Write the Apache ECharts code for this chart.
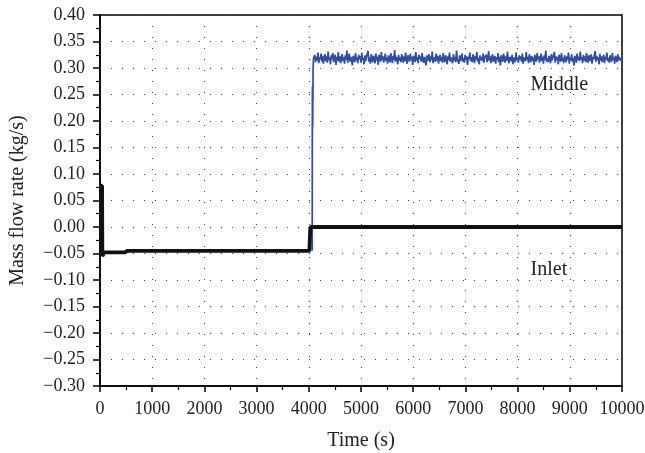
<!DOCTYPE html>
<html>
<head>
<meta charset="utf-8">
<script src="https://cdn.jsdelivr.net/npm/echarts@6/dist/echarts.min.js"></script>
<style>html,body{margin:0;padding:0;background:#fff}#c{width:645px;height:453px}</style>
</head>
<body>
<div id="c"></div>
<script>
// ---- data ----
var inletTime  = [0, 40, 45, 80, 480, 520, 4010, 4030, 10000];
var inletValue = [0.078, 0.078, -0.055, -0.048, -0.048, -0.045, -0.045, 0.000, 0.000];

var middleRiseTime  = [4065, 4067, 4069, 4071, 4073, 4075, 4077, 4079, 4082, 4090];
var middleRiseValue = [-0.045, 0.180, 0.265, 0.185, 0.262, 0.190, 0.258, 0.240, 0.300, 0.318];

var middleStart = 4100;
var middleStep = 15;
var middleNoise = [
0.318,0.325,0.311,0.321,0.314,0.329,0.309,0.320,0.316,0.327,
0.312,0.323,0.308,0.319,0.326,0.313,0.322,0.310,0.331,0.315,
0.320,0.307,0.324,0.317,0.328,0.311,0.319,0.325,0.306,0.321,
0.314,0.330,0.312,0.322,0.309,0.318,0.326,0.313,0.320,0.308,
0.324,0.316,0.333,0.310,0.319,0.327,0.312,0.321,0.315,0.305,
0.323,0.318,0.311,0.328,0.314,0.320,0.309,0.325,0.317,0.322,
0.310,0.329,0.315,0.319,0.307,0.324,0.313,0.321,0.318,0.332,
0.312,0.320,0.308,0.326,0.316,0.311,0.323,0.317,0.309,0.327,
0.314,0.321,0.306,0.325,0.319,0.312,0.330,0.315,0.322,0.310,
0.318,0.327,0.313,0.320,0.308,0.324,0.316,0.311,0.328,0.319,
0.309,0.323,0.315,0.334,0.312,0.321,0.317,0.307,0.325,0.314,
0.320,0.311,0.326,0.318,0.310,0.322,0.313,0.329,0.316,0.308,
0.324,0.319,0.312,0.327,0.315,0.321,0.306,0.323,0.318,0.311,
0.330,0.314,0.320,0.309,0.325,0.317,0.322,0.312,0.328,0.316,
0.310,0.321,0.318,0.305,0.324,0.313,0.319,0.326,0.311,0.322,
0.315,0.331,0.309,0.320,0.317,0.312,0.327,0.314,0.323,0.308,
0.319,0.325,0.313,0.321,0.310,0.328,0.316,0.311,0.324,0.318,
0.307,0.322,0.315,0.329,0.312,0.320,0.317,0.309,0.326,0.314,
0.321,0.311,0.333,0.316,0.319,0.308,0.324,0.313,0.320,0.327,
0.312,0.318,0.310,0.325,0.315,0.322,0.306,0.321,0.317,0.329,
0.313,0.320,0.311,0.326,0.318,0.309,0.323,0.316,0.330,0.312,
0.319,0.307,0.324,0.315,0.321,0.313,0.327,0.310,0.320,0.317,
0.325,0.311,0.318,0.332,0.314,0.322,0.309,0.319,0.326,0.312,
0.316,0.323,0.308,0.320,0.315,0.328,0.311,0.321,0.305,0.324,
0.317,0.312,0.327,0.319,0.310,0.322,0.314,0.331,0.316,0.309,
0.321,0.318,0.313,0.325,0.307,0.320,0.323,0.311,0.329,0.315,
0.319,0.310,0.324,0.316,0.322,0.312,0.327,0.308,0.320,0.317,
0.313,0.330,0.315,0.321,0.309,0.326,0.318,0.311,0.323,0.314,
0.320,0.306,0.325,0.317,0.312,0.328,0.316,0.322,0.310,0.319,
0.327,0.313,0.321,0.308,0.324,0.315,0.333,0.312,0.318,0.311,
0.323,0.316,0.309,0.326,0.314,0.320,0.317,0.330,0.310,0.322,
0.315,0.321,0.307,0.325,0.318,0.312,0.328,0.313,0.319,0.309,
0.324,0.317,0.311,0.322,0.316,0.329,0.308,0.320,0.314,0.326,
0.312,0.319,0.305,0.323,0.318,0.310,0.327,0.315,0.321,0.313,
0.331,0.316,0.320,0.309,0.325,0.314,0.322,0.311,0.328,0.317,
0.310,0.324,0.318,0.313,0.326,0.308,0.321,0.316,0.319,0.332,
0.312,0.323,0.315,0.320,0.307,0.327,0.314,0.322,0.311,0.318,
0.325,0.309,0.321,0.316,0.329,0.313,0.319,0.310,0.324,0.317,
0.312,0.328,0.315,0.320,0.308,0.323,0.318,0.311,0.326,0.314,
0.321,0.316,0.319,0.313
];

var labelMiddle = {name: 'Middle', t: 8800, v: 0.268};
var labelInlet  = {name: 'Inlet',  t: 8600, v: -0.081};

// ---- build series data ----
var inletData = inletTime.map(function (t, i) { return [t, inletValue[i]]; });
var middleData = middleRiseTime.map(function (t, i) { return [t, middleRiseValue[i]]; });
middleNoise.forEach(function (v, i) { middleData.push([middleStart + i * middleStep, v]); });

var FONT = 'Liberation Serif';
var dotted = {color: '#444', width: 1, type: [1, 10]};

function textMark(lbl) {
  return {
    symbol: 'rect', symbolSize: [70, 24],
    itemStyle: {color: 'rgba(0,0,0,0)'},
    data: [{coord: [lbl.t, lbl.v], value: lbl.name}],
    label: {show: true, position: 'inside', formatter: lbl.name, fontFamily: FONT, fontSize: 20, color: '#222'}
  };
}

var chart = echarts.init(document.getElementById('c'), null, {renderer: 'canvas'});
chart.setOption({
  animation: false,
  backgroundColor: '#fff',
  grid: {left: 100, right: 23, top: 15, bottom: 67, show: true, borderColor: '#000', borderWidth: 1.5,
         backgroundColor: 'transparent', containLabel: false, outerBoundsMode: 'none'},
  xAxis: {
    type: 'value', min: 0, max: 10000, interval: 1000,
    name: 'Time (s)', nameLocation: 'middle', nameGap: 45,
    nameTextStyle: {fontFamily: FONT, fontSize: 20, color: '#222'},
    axisLine: {show: true, onZero: false, lineStyle: {color: '#000', width: 1.5}},
    axisTick: {show: true, inside: false, length: 6, lineStyle: {color: '#000', width: 1.5}},
    minorTick: {show: true, splitNumber: 2, length: 4, lineStyle: {color: '#000', width: 1.2}},
    axisLabel: {fontFamily: FONT, fontSize: 18, color: '#222', margin: 14, showMaxLabel: true, showMinLabel: true,
      formatter: function (v) { return String(Math.round(v)); }},
    splitLine: {show: true, lineStyle: dotted}
  },
  yAxis: {
    type: 'value', min: -0.3, max: 0.4, interval: 0.05,
    name: 'Mass flow rate (kg/s)', nameLocation: 'middle', nameGap: 72,
    nameTextStyle: {fontFamily: FONT, fontSize: 20, color: '#222'},
    axisLine: {show: true, onZero: false, lineStyle: {color: '#000', width: 1.5}},
    axisTick: {show: true, inside: false, length: 7, lineStyle: {color: '#000', width: 1.5}},
    minorTick: {show: true, splitNumber: 2, length: 4, lineStyle: {color: '#000', width: 1.2}},
    axisLabel: {
      fontFamily: FONT, fontSize: 18, color: '#222', margin: 15,
      formatter: function (v) {
        if (Math.abs(v) < 1e-9) return '0.00';
        var s = Math.abs(v).toFixed(2);
        return (v < 0 ? '\u2212' : '') + s;
      }
    },
    splitLine: {show: true, lineStyle: dotted}
  },
  series: [
    {
      name: 'Middle', type: 'line', data: middleData, showSymbol: false, symbol: 'none',
      lineStyle: {color: '#2f4ea3', width: 1.7}, z: 3,
      markPoint: textMark(labelMiddle)
    },
    {
      name: 'Inlet', type: 'line', data: inletData, showSymbol: false, symbol: 'none',
      lineStyle: {color: '#111', width: 3.8}, z: 4,
      markPoint: textMark(labelInlet)
    }
  ]
});
</script>
</body>
</html>
